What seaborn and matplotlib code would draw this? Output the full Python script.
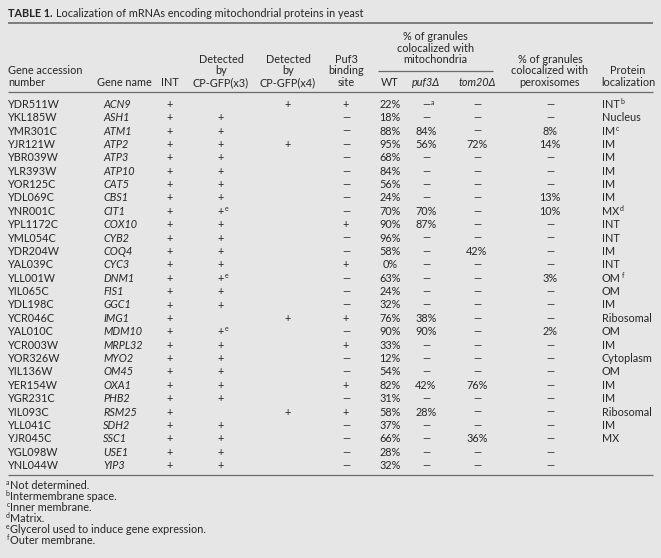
import matplotlib
matplotlib.use("Agg")
import matplotlib.pyplot as plt
import seaborn as sns
import numpy as np
import pandas as pd

# ---------------- data ----------------
title_bold = "TABLE 1."
title_text = "Localization of mRNAs encoding mitochondrial proteins in yeast"

accession = ["YDR511W", "YKL185W", "YMR301C", "YJR121W", "YBR039W", "YLR393W",
             "YOR125C", "YDL069C", "YNR001C", "YPL1172C", "YML054C", "YDR204W",
             "YAL039C", "YLL001W", "YIL065C", "YDL198C", "YCR046C", "YAL010C",
             "YCR003W", "YOR326W", "YIL136W", "YER154W", "YGR231C", "YIL093C",
             "YLL041C", "YJR045C", "YGL098W", "YNL044W"]
gene_name = ["ACN9", "ASH1", "ATM1", "ATP2", "ATP3", "ATP10", "CAT5", "CBS1",
             "CIT1", "COX10", "CYB2", "COQ4", "CYC3", "DNM1", "FIS1", "GGC1",
             "IMG1", "MDM10", "MRPL32", "MYO2", "OM45", "OXA1", "PHB2", "RSM25",
             "SDH2", "SSC1", "USE1", "YIP3"]
int_flag = ["+", "+", "+", "+", "+", "+", "+", "+", "+", "+", "+", "+", "+", "+",
            "+", "+", "+", "+", "+", "+", "+", "+", "+", "+", "+", "+", "+", "+"]
cpgfp_x3 = ["", "+", "+", "+", "+", "+", "+", "+", "+", "+", "+", "+", "+", "+",
            "+", "+", "", "+", "+", "+", "+", "+", "+", "", "+", "+", "+", "+"]
cpgfp_x3_note = {8: "e", 13: "e", 17: "e"}
cpgfp_x4 = ["+", "", "", "+", "", "", "", "", "", "", "", "", "", "",
            "", "", "+", "", "", "", "", "", "", "+", "", "", "", ""]
puf3_site = ["+", "–", "–", "–", "–", "–", "–", "–", "–", "+", "–", "–", "+", "–",
             "–", "–", "+", "–", "+", "–", "–", "+", "–", "+", "–", "–", "–", "–"]
wt_pct = [22, 18, 88, 95, 68, 84, 56, 24, 70, 90, 96, 58, 0, 63,
          24, 32, 76, 90, 33, 12, 54, 82, 31, 58, 37, 66, 28, 32]
puf3_pct = [None, None, 84, 56, None, None, None, None, 70, 87, None, None, None, None,
            None, None, 38, 90, None, None, None, 42, None, 28, None, None, None, None]
puf3_note = {0: "a"}
tom20_pct = [None, None, None, 72, None, None, None, None, None, None, None, 42, None, None,
             None, None, None, None, None, None, None, 76, None, None, None, 36, None, None]
perox_pct = [None, None, 8, 14, None, None, None, 13, 10, None, None, None, None, 3,
             None, None, None, 2, None, None, None, None, None, None, None, None, None, None]
localization = ["INT", "Nucleus", "IM", "IM", "IM", "IM", "IM", "IM", "MX", "INT",
                "INT", "IM", "INT", "OM", "OM", "IM", "Ribosomal", "OM", "IM",
                "Cytoplasm", "OM", "IM", "IM", "Ribosomal", "IM", "MX", "", ""]
localization_note = {0: "b", 2: "c", 8: "d", 13: "f"}
footnote_marks = ["a", "b", "c", "d", "e", "f"]
footnote_texts = ["Not determined.", "Intermembrane space.", "Inner membrane.",
                  "Matrix.", "Glycerol used to induce gene expression.",
                  "Outer membrane."]

table = pd.DataFrame({"acc": accession, "gene": gene_name, "int": int_flag,
                      "x3": cpgfp_x3, "x4": cpgfp_x4, "puf3": puf3_site,
                      "wt": wt_pct, "p3": puf3_pct, "t20": tom20_pct,
                      "perox": perox_pct, "loc": localization})

# ---------------- style ----------------
BG = "#e6e6e6"
TXT = "#262626"
LINE = "#6a6a6a"
FS = 7.8
SUP = 5.0

sns.set_theme(style="white", rc={"axes.facecolor": BG, "figure.facecolor": BG})
plt.rcParams["font.family"] = ["Lato", "DejaVu Sans"]

W, H = 661, 558
fig = plt.figure(figsize=(W / 100, H / 100), dpi=100, facecolor=BG)
ax = fig.add_axes([0, 0, 1, 1])
ax.set_xlim(0, W)
ax.set_ylim(H, 0)
ax.axis("off")
sns.despine(ax=ax, left=True, bottom=True)

renderer = fig.canvas.get_renderer()


def txt(x, y, s, ha="left", **kw):
    kw.setdefault("fontsize", FS)
    kw.setdefault("color", TXT)
    return ax.text(x, y, s, ha=ha, va="center_baseline", **kw)


def dash(x, y):
    return ax.text(x, y, "—", ha="center", va="center_baseline",
                   fontsize=FS * 0.95, color=TXT)


def sup_after(t, s):
    bb = t.get_window_extent(renderer=renderer)
    x = bb.x1 + 0.5
    ytop = H - bb.y1
    ax.text(x, ytop - 1.0, s, ha="left", va="top", fontsize=SUP, color=TXT)


# title
tb = txt(8, 12.5, title_bold, fontweight="bold")
bb = tb.get_window_extent(renderer=renderer)
txt(bb.x1 + 3, 12.5, title_text)

# rules
y_bottom_rule = 475
ax.plot([8, 653], [23, 23], color=LINE, lw=1.2, solid_capstyle="butt")
ax.plot([378, 493], [71, 71], color=LINE, lw=0.9, solid_capstyle="butt")
ax.plot([8, 653], [92, 92], color=LINE, lw=0.9, solid_capstyle="butt")
ax.plot([8, 653], [y_bottom_rule, y_bottom_rule], color=LINE, lw=0.9,
        solid_capstyle="butt")

# header
hy = [35, 47, 58.5, 70, 81.5]
cols = {"int": 170, "x3": 221, "x4": 288, "puf3": 346, "wt": 390,
        "p3": 426, "t20": 477, "perox": 550}
txt(8, hy[3], "Gene accession")
txt(8, hy[4], "number")
txt(97, hy[4], "Gene name")
txt(cols["int"], hy[4], "INT", ha="center")
for c, lab in (("x3", "CP-GFP(x3)"), ("x4", "CP-GFP(x4)")):
    txt(cols[c], hy[2], "Detected", ha="center")
    txt(cols[c], hy[3], "by", ha="center")
    txt(cols[c], hy[4], lab, ha="center")
txt(cols["puf3"], hy[2], "Puf3", ha="center")
txt(cols["puf3"], hy[3], "binding", ha="center")
txt(cols["puf3"], hy[4], "site", ha="center")
mito_c = 435.5
txt(mito_c, hy[0], "% of granules", ha="center")
txt(mito_c, hy[1], "colocalized with", ha="center")
txt(mito_c, hy[2], "mitochondria", ha="center")
txt(cols["wt"], hy[4], "WT", ha="center")
txt(cols["p3"], hy[4], "puf3Δ", ha="center", style="italic")
txt(cols["t20"], hy[4], "tom20Δ", ha="center", style="italic")
txt(cols["perox"], hy[2], "% of granules", ha="center")
txt(cols["perox"], hy[3], "colocalized with", ha="center")
txt(cols["perox"], hy[4], "peroxisomes", ha="center")
txt(628, hy[3], "Protein", ha="center")
txt(628, hy[4], "localization", ha="center")

# body
y0, dy = 103.3, 13.38


def cell(x, y, v):
    if v is None or (isinstance(v, float) and np.isnan(v)):
        return dash(x, y)
    return txt(x, y, f"{int(v)}%", ha="center")


for i, row in table.iterrows():
    y = y0 + dy * i
    txt(8, y, row["acc"])
    txt(103, y, row["gene"], style="italic")
    txt(cols["int"], y, row["int"], ha="center")
    if row["x3"]:
        t = txt(cols["x3"], y, row["x3"], ha="center")
        if i in cpgfp_x3_note:
            sup_after(t, cpgfp_x3_note[i])
    if row["x4"]:
        txt(cols["x4"], y, row["x4"], ha="center")
    if row["puf3"] == "+":
        txt(cols["puf3"], y, "+", ha="center")
    else:
        dash(cols["puf3"], y)
    cell(cols["wt"], y, wt_pct[i])
    t = cell(cols["p3"], y, puf3_pct[i])
    if i in puf3_note:
        sup_after(t, puf3_note[i])
    cell(cols["t20"], y, tom20_pct[i])
    cell(cols["perox"], y, perox_pct[i])
    if row["loc"]:
        t = txt(602, y, row["loc"])
        if i in localization_note:
            sup_after(t, localization_note[i])

# footnotes
fy0, fdy = 484.5, 10.9
for k, (m, s) in enumerate(zip(footnote_marks, footnote_texts)):
    y = fy0 + fdy * k
    t = txt(10, y, s)
    bb = t.get_window_extent(renderer=renderer)
    ax.text(bb.x0 - 0.3, H - bb.y1 - 1.0, m, ha="right", va="top",
            fontsize=SUP, color=TXT)

fig.savefig("out.png", dpi=100, facecolor=BG)
